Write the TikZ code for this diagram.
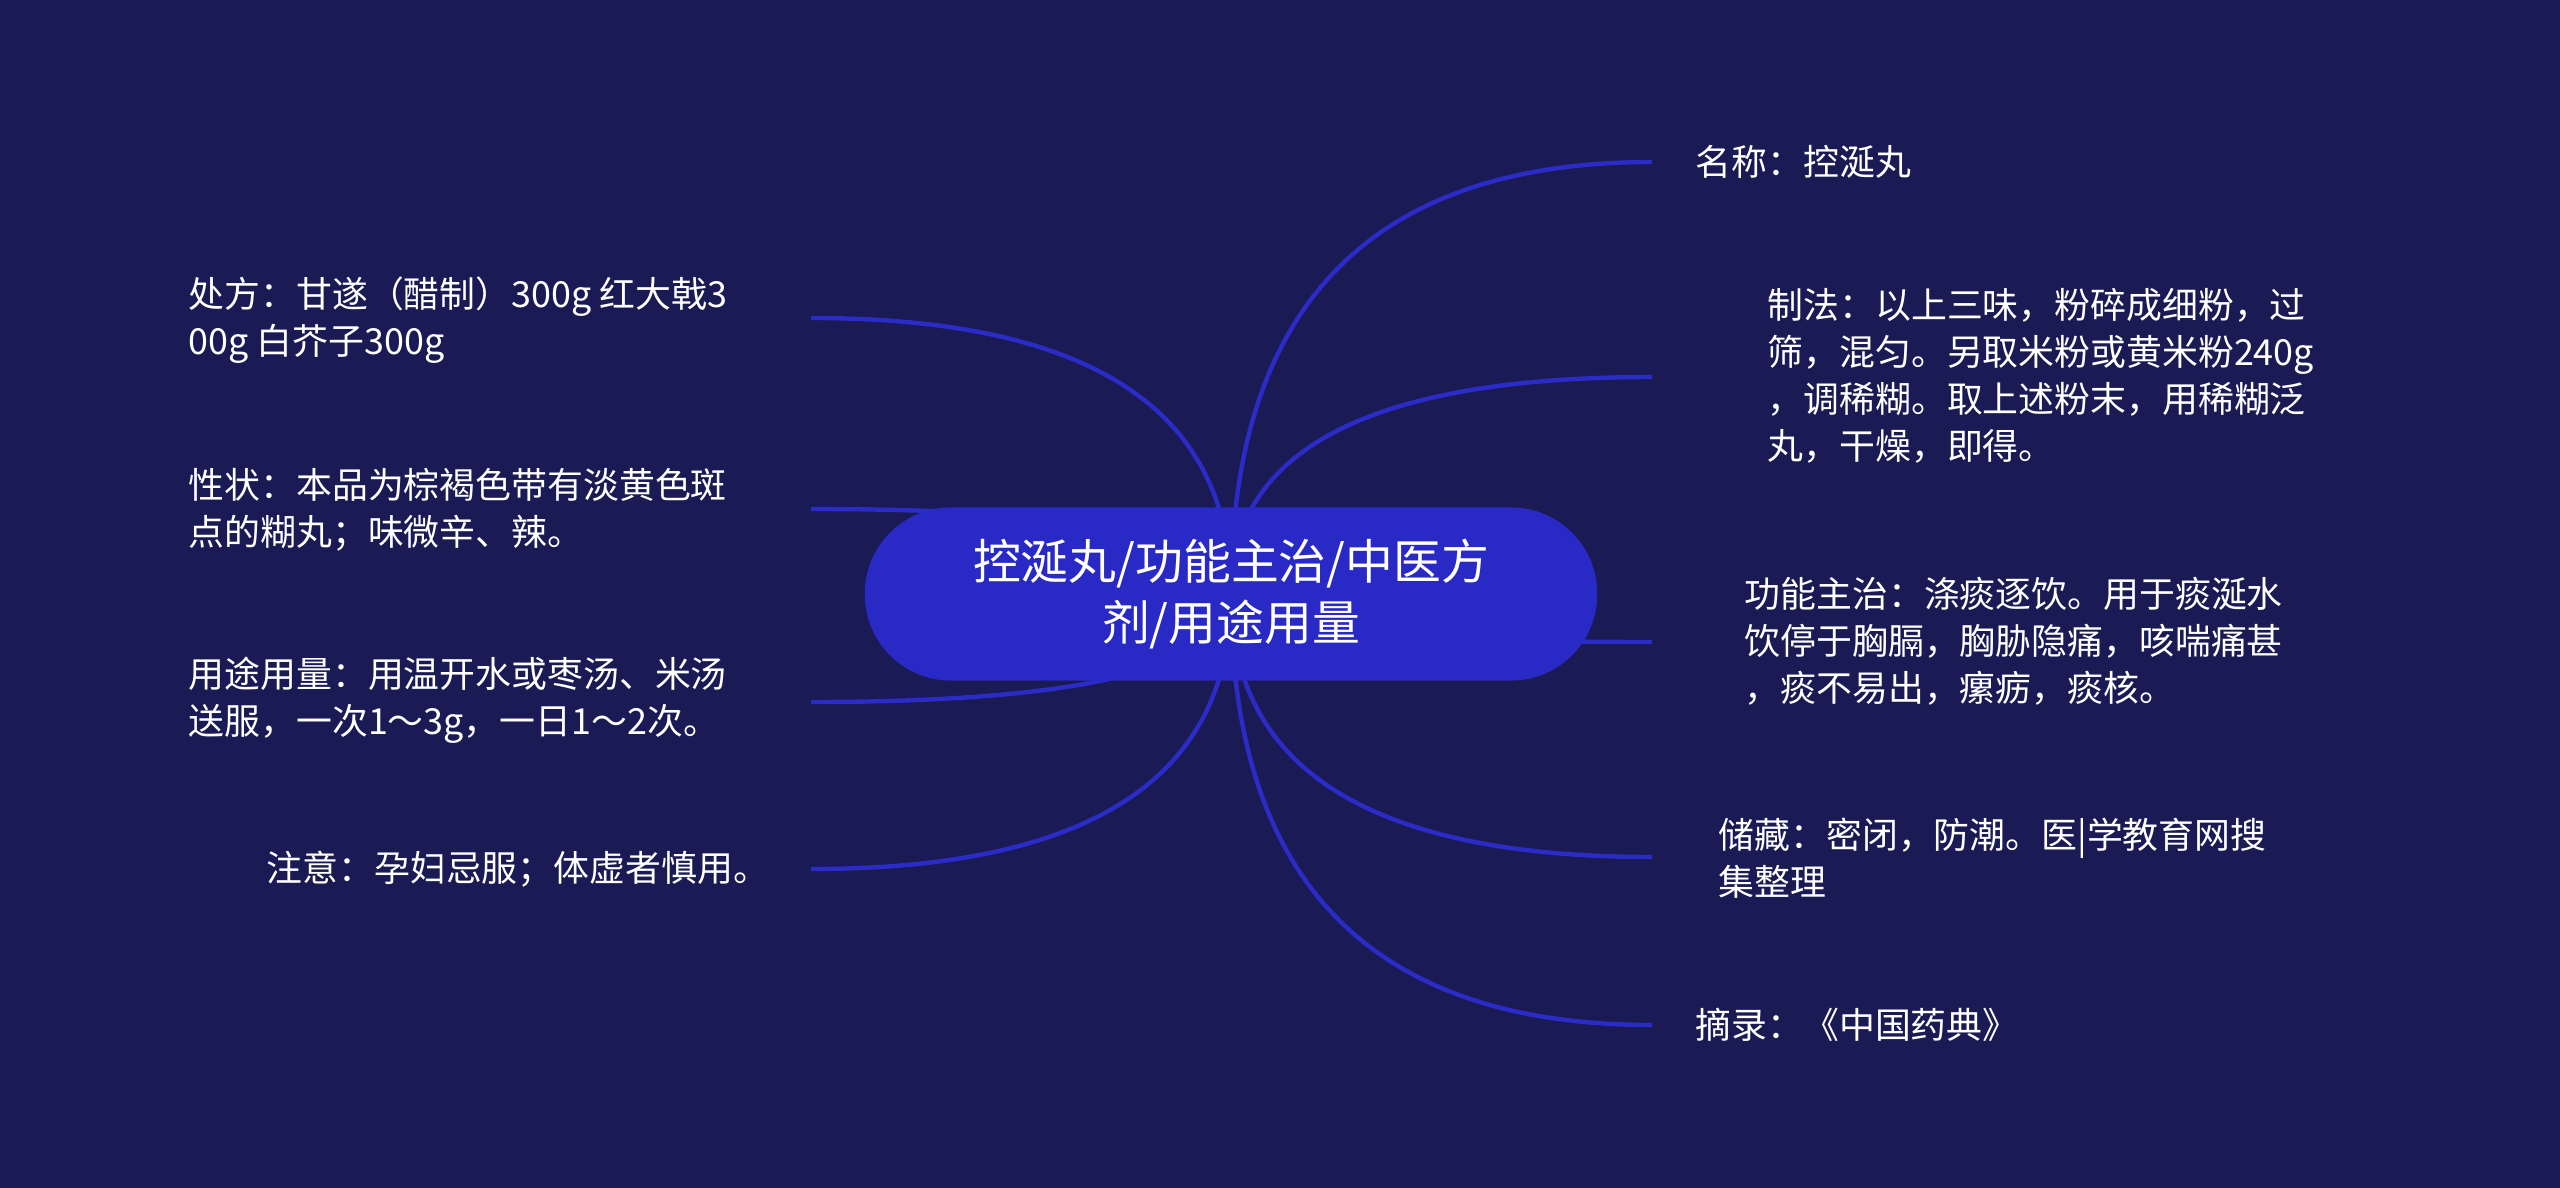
\documentclass[tikz,border=0pt]{standalone}
\usepackage{fontspec}
\setmainfont{Noto Sans CJK SC}
\usetikzlibrary{calc,backgrounds}
\definecolor{bgc}{HTML}{1A1A54}
\definecolor{rootfill}{HTML}{2929C6}
\definecolor{linkc}{HTML}{2B2BC8}
\begin{document}
\begin{tikzpicture}[x=0.01cm,y=-0.01cm,
  leaf/.style={text=white, anchor=west, align=left, inner sep=0pt, font=\fontsize{10.2}{13.4}\selectfont},
  rootbox/.style={fill=rootfill, rounded corners=0.86cm, minimum width=7.32cm, minimum height=1.73cm, text=white, align=center, inner sep=0pt, font=\fontsize{13.6}{17.6}\selectfont},
  link/.style={draw=linkc, line width=1.25pt},
  mm/.style={to path={.. controls ($(\tikztostart)!0.667!(\tikztostart|-\tikztotarget)$) and ($(\tikztotarget)!0.667!(\tikztostart|-\tikztotarget)$) .. (\tikztotarget)}}]
\useasboundingbox (0,0) rectangle (2560,1188);

\node[rootbox] (root) at (1231,594) {控涎丸/功能主治/中医方\\剂/用途用量};

% leaves (left)
\node[leaf] (chufang) at (188,320) {处方：甘遂（醋制）300g 红大戟3\\00g 白芥子300g};
\node[leaf] (xingzhuang) at (188,510) {性状：本品为棕褐色带有淡黄色斑\\点的糊丸；味微辛、辣。};
\node[leaf] (yongtu) at (188,700) {用途用量：用温开水或枣汤、米汤\\送服，一次1～3g，一日1～2次。};
\node[leaf] (zhuyi) at (266,869) {注意：孕妇忌服；体虚者慎用。};
% leaves (right)
\node[leaf] (mingcheng) at (1695,162) {名称：控涎丸};
\node[leaf] (zhifa) at (1767,376) {制法：以上三味，粉碎成细粉，过\\筛，混匀。另取米粉或黄米粉240g\\，调稀糊。取上述粉末，用稀糊泛\\丸，干燥，即得。};
\node[leaf] (gongneng) at (1744,641) {功能主治：涤痰逐饮。用于痰涎水\\饮停于胸膈，胸胁隐痛，咳喘痛甚\\，痰不易出，瘰疬，痰核。};
\node[leaf] (chucang) at (1718,858) {储藏：密闭，防潮。医|学教育网搜\\集整理};
\node[leaf] (zhailu) at (1695,1025) {摘录：《中国药典》};

% connector ends
\coordinate (e1) at (811,318);
\coordinate (e2) at (811,509);
\coordinate (e3) at (811,702);
\coordinate (e4) at (811,869);
\coordinate (e5) at (1652,162);
\coordinate (e6) at (1652,377);
\coordinate (e7) at (1652,642);
\coordinate (e8) at (1652,857);
\coordinate (e9) at (1652,1025);

\begin{scope}[on background layer]
\fill[bgc] (0,0) rectangle (2560,1188);
\foreach \e in {e1,e2,e3,e4,e5,e6,e7,e8,e9}
  \draw[link] (root.center) to[mm] (\e);
\end{scope}
\end{tikzpicture}
\end{document}
